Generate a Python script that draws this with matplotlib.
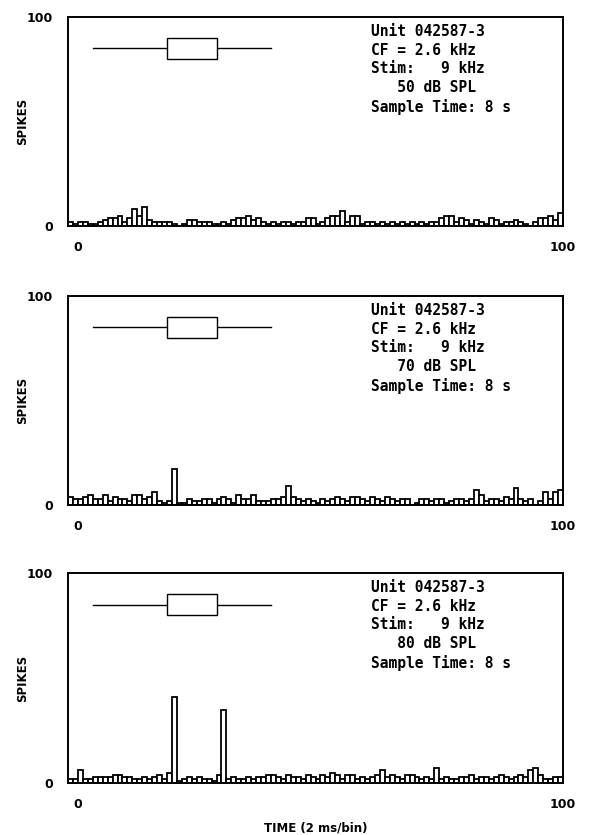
import numpy as np
import matplotlib.pyplot as plt
from matplotlib.patches import Rectangle

# spike counts per 2 ms bin (100 bins)
counts_50 = [2, 1, 2, 2, 1, 1, 2, 3, 4, 4,
             5, 2, 4, 8, 5, 9, 3, 2, 2, 2,
             2, 1, 0, 1, 3, 3, 2, 2, 2, 1,
             1, 2, 1, 3, 4, 4, 5, 3, 4, 2,
             1, 2, 1, 2, 2, 1, 2, 2, 4, 4,
             1, 2, 4, 5, 5, 7, 2, 5, 5, 1,
             2, 2, 1, 2, 1, 2, 1, 2, 1, 2,
             1, 2, 1, 2, 2, 4, 5, 5, 2, 4,
             3, 1, 3, 2, 1, 4, 3, 1, 2, 2,
             3, 2, 1, 0, 2, 4, 4, 5, 3, 6]
counts_70 = [4, 3, 3, 4, 5, 3, 3, 5, 2, 4,
             3, 3, 2, 5, 5, 3, 4, 6, 2, 1,
             2, 17, 1, 1, 3, 2, 2, 3, 3, 1,
             3, 4, 3, 1, 5, 3, 3, 5, 2, 2,
             2, 3, 3, 4, 9, 4, 3, 2, 3, 2,
             1, 3, 2, 3, 4, 3, 2, 4, 4, 3,
             2, 4, 3, 2, 4, 3, 2, 3, 3, 0,
             1, 3, 3, 2, 3, 3, 1, 2, 3, 3,
             2, 3, 7, 5, 2, 3, 3, 2, 4, 3,
             8, 3, 2, 3, 0, 2, 6, 3, 6, 7]
counts_80 = [2, 2, 6, 2, 2, 3, 3, 3, 3, 4,
             4, 3, 3, 2, 2, 3, 2, 3, 4, 2,
             5, 41, 1, 2, 3, 2, 3, 2, 2, 1,
             4, 35, 2, 3, 2, 2, 3, 2, 3, 3,
             4, 4, 3, 2, 4, 3, 3, 2, 4, 3,
             2, 4, 3, 5, 4, 2, 4, 4, 2, 3,
             2, 3, 4, 6, 3, 4, 3, 2, 4, 4,
             3, 2, 3, 2, 7, 2, 3, 2, 2, 3,
             3, 4, 2, 3, 3, 2, 3, 4, 3, 2,
             3, 4, 3, 6, 7, 4, 2, 2, 3, 3]
levels = [50, 70, 80]
panels = [counts_50, counts_70, counts_80]

# stimulus marker (bins): tone on 20-30, baseline line 5-41
stim_on, stim_off = 20, 30
line_start, line_end = 5, 41

fig = plt.figure(figsize=(5.9, 8.35), dpi=100)
plt.rcParams['font.family'] = 'DejaVu Sans'

tops = [17, 296, 573]
bottoms = [226, 505, 783]
W, H = 590.0, 835.0

for k, (cnt, lev) in enumerate(zip(panels, levels)):
    ax = fig.add_axes([68 / W, 1 - bottoms[k] / H, (563 - 68) / W,
                       (bottoms[k] - tops[k]) / H])
    bins = np.arange(len(cnt))
    ax.bar(bins, cnt, width=1.0, align='edge', facecolor='white',
           edgecolor='black', linewidth=1.3)

    ax.plot([line_start, line_end], [85, 85], color='black', lw=1.0)
    ax.add_patch(Rectangle((stim_on, 80), stim_off - stim_on, 10,
                           facecolor='white', edgecolor='black', lw=1.0,
                           zorder=3))

    info = ("Unit 042587-3\nCF = 2.6 kHz\nStim:   9 kHz\n"
            f"   {lev} dB SPL\nSample Time: 8 s")
    ax.text(0.612, 0.966, info, transform=ax.transAxes, ha='left', va='top',
            family='DejaVu Sans Mono', fontweight='bold', fontsize=10.5,
            linespacing=1.3)

    ax.set_xlim(0, 100)
    ax.set_ylim(0, 100)
    ax.set_xticks([2, 100])
    ax.set_xticklabels(['0', '100'])
    ax.set_yticks([0, 100])
    ax.set_yticklabels(['0', '100'])
    ax.tick_params(length=0, labelsize=9, pad=11)
    for lab in ax.get_xticklabels() + ax.get_yticklabels():
        lab.set_fontweight('bold')
    for sp in ax.spines.values():
        sp.set_linewidth(1.4)
    ax.set_ylabel('SPIKES', fontsize=8.5, fontweight='bold', va='center')
    ax.yaxis.set_label_coords(-0.091, 0.5)
    if k == 2:
        ax.set_xlabel('TIME (2 ms/bin)', fontsize=8.5, fontweight='bold',
                      va='center')
        ax.xaxis.set_label_coords(0.5, -0.215)

fig.savefig('out.png', dpi=100)
